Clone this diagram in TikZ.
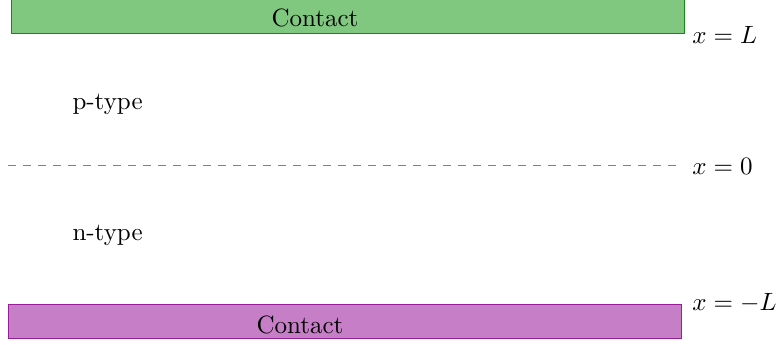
\documentclass[tikz,border=0pt]{standalone}
\definecolor{cfillg}{RGB}{128,200,128}
\definecolor{cdrawg}{RGB}{20,140,20}
\definecolor{cfillm}{RGB}{198,126,198}
\definecolor{cdrawm}{RGB}{150,30,150}
\begin{document}
\begin{tikzpicture}[x=0.4pt,y=-0.4pt,
  contactbox/.style={rectangle,inner sep=0pt,minimum width=268.8pt,minimum height=13.6pt},
  lbl/.style={inner sep=0pt,anchor=west}]
\useasboundingbox (0,0) rectangle (783,345);
\node[contactbox,draw=cdrawg,fill=cfillg] (topc) at (348,16.5) {};
\node (toptext) at (315,18) {Contact};
\node[contactbox,draw=cdrawm,fill=cfillm] (botc) at (345,322) {};
\node (bottext) at (300,325) {Contact};
\coordinate (dl) at (8,166);
\coordinate (dr) at (677,166);
\draw[dashed,gray] (dl) -- (dr);
\node[lbl] (xl) at (692,35) {$x=L$};
\node[lbl] (x0) at (692,166) {$x=0$};
\node[lbl] (xml) at (692,303) {$x=-L$};
\node[lbl] (pt) at (72,104) {p-type};
\node[lbl] (nt) at (72,235) {n-type};
\end{tikzpicture}
\end{document}
